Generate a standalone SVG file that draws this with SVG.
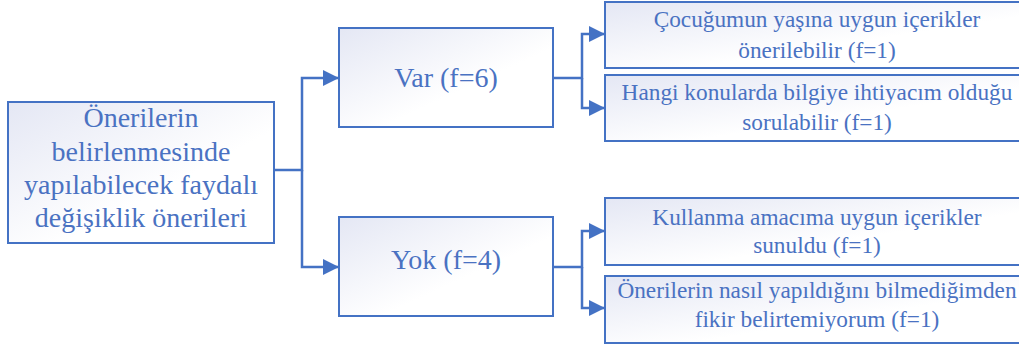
<svg xmlns="http://www.w3.org/2000/svg" width="1019" height="345" viewBox="0 0 1019 345">
<style>
.box{fill:url(#g);stroke:#4472c4;stroke-width:2}
.t{font-family:'Liberation Serif','Times New Roman',serif;fill:#4a72c2;text-anchor:middle}
.c{fill:none;stroke:#4472c4;stroke-width:2.5}
</style>
<defs>
<linearGradient id="g" x1="0" y1="0" x2="1" y2="1">
<stop offset="0" stop-color="#e4e7f4"/>
<stop offset="0.6" stop-color="#ffffff"/>
<stop offset="1" stop-color="#ffffff"/>
</linearGradient>
<marker id="b" viewBox="0 0 10 10" refX="10" refY="5" markerWidth="16" markerHeight="16" orient="auto" markerUnits="userSpaceOnUse">
<path d="M0,0 L10,5 L0,10 Z" fill="#4472c4"/>
</marker>
</defs>
<g id="connectors">
<path class="c" d="M274,170 H302 V78 H339" marker-end="url(#b)"/>
<path class="c" d="M302,170 V267 H339" marker-end="url(#b)"/>
<path class="c" d="M553,78 H582 V34 H605" marker-end="url(#b)"/>
<path class="c" d="M582,78 V108 H605" marker-end="url(#b)"/>
<path class="c" d="M553,267 H582 V231 H605" marker-end="url(#b)"/>
<path class="c" d="M582,267 V308 H605" marker-end="url(#b)"/>
</g>
<g id="root">
<rect class="box" x="8" y="102" width="266" height="141"/>
<text class="t" font-size="28"><tspan x="141" y="127">Önerilerin</tspan><tspan x="141" y="161">belirlenmesinde</tspan><tspan x="141" y="194">yapılabilecek faydalı</tspan><tspan x="141" y="227">değişiklik önerileri</tspan></text>
</g>
<g id="var">
<rect class="box" x="339" y="28" width="214" height="99"/>
<text class="t" font-size="28" x="446" y="87">Var (f=6)</text>
</g>
<g id="yok">
<rect class="box" x="339" y="217" width="214" height="99"/>
<text class="t" font-size="28" x="446" y="269">Yok (f=4)</text>
</g>
<g id="n1">
<rect class="box" x="605" y="2" width="424" height="66"/>
<text class="t" font-size="23.3"><tspan x="817" y="27">Çocuğumun yaşına uygun içerikler</tspan><tspan x="817" y="58">önerilebilir (f=1)</tspan></text>
</g>
<g id="n2">
<rect class="box" x="605" y="75" width="424" height="66"/>
<text class="t" font-size="23.3"><tspan x="817" y="100">Hangi konularda bilgiye ihtiyacım olduğu</tspan><tspan x="817" y="130">sorulabilir (f=1)</tspan></text>
</g>
<g id="n3">
<rect class="box" x="605" y="198" width="424" height="67"/>
<text class="t" font-size="23.3"><tspan x="817" y="225">Kullanma amacıma uygun içerikler</tspan><tspan x="817" y="253">sunuldu (f=1)</tspan></text>
</g>
<g id="n4">
<rect class="box" x="605" y="276" width="424" height="67"/>
<text class="t" font-size="23.3"><tspan x="817" y="298">Önerilerin nasıl yapıldığını bilmediğimden</tspan><tspan x="817" y="327">fikir belirtemiyorum (f=1)</tspan></text>
</g>
</svg>
